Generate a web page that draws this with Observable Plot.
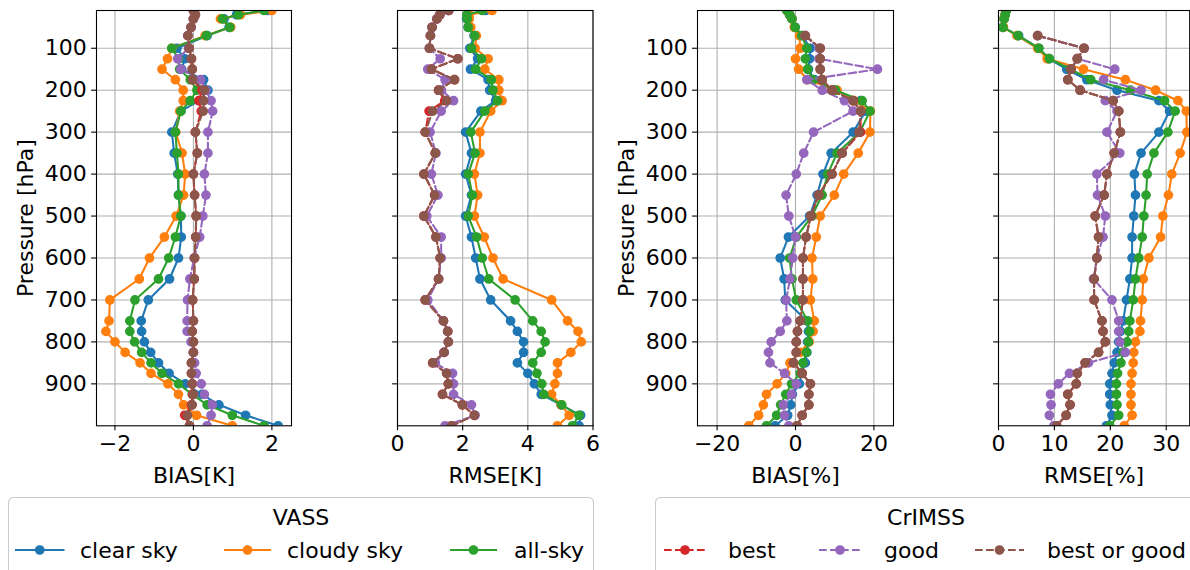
<!DOCTYPE html>
<html><head><meta charset="utf-8">
<script src="https://cdn.jsdelivr.net/npm/d3@7"></script>
<script src="https://cdn.jsdelivr.net/npm/@observablehq/plot@0.6"></script>
<style>
html,body{margin:0;padding:0;background:#fff;}
#wrap{position:relative;width:1190px;height:570px;overflow:hidden;font-family:"DejaVu Sans",sans-serif;background:#fff;}
#wrap svg{position:absolute;top:0;}
</style></head><body><div id="wrap"></div>
<script>
// Pressure levels [hPa]
const levels = [10,20,30,50,70,100,125,150,175,200,225,250,300,350,400,450,500,550,600,650,700,750,775,800,825,850,875,900,925,950,975,1000];
const yTicks = [100,200,300,400,500,600,700,800,900];

// Series
const seriesNames = ["clear sky","cloudy sky","all-sky","best","good","best or good"];
const seriesColors = ["#1f77b4","#ff7f0e","#2ca02c","#d62728","#9467bd","#8c564b"];
const seriesDashed = [false,false,false,true,true,true];
const legendTitles = ["VASS","CrIMSS"];

// Panel 1: BIAS [K]
const biasK_clear   = [1.9,1.1,0.78,0.91,0.35,-0.42,-0.22,-0.30,0.26,0.37,0.15,-0.32,-0.55,-0.49,-0.40,-0.38,-0.32,-0.31,-0.38,-0.61,-1.15,-1.33,-1.32,-1.25,-1.09,-0.89,-0.62,-0.21,0.22,0.65,1.33,2.16];
const biasK_cloudy  = [2.0,1.2,0.69,0.95,0.30,-0.55,-0.66,-0.80,-0.46,-0.26,-0.26,-0.35,-0.45,-0.29,-0.21,-0.25,-0.44,-0.74,-1.12,-1.38,-2.13,-2.15,-2.23,-2.00,-1.74,-1.36,-1.08,-0.65,-0.38,-0.25,0.08,0.99];
const biasK_all     = [1.8,1.15,0.74,0.93,0.33,-0.55,-0.38,-0.35,-0.08,0.09,-0.08,-0.32,-0.46,-0.42,-0.38,-0.38,-0.32,-0.46,-0.63,-0.89,-1.49,-1.62,-1.62,-1.50,-1.32,-1.08,-0.80,-0.38,-0.03,0.35,0.99,1.80];
const biasK_best    = [0.0,0.05,0.0,-0.06,-0.14,-0.11,-0.05,-0.03,-0.02,0.22,0.14,0.20,0.05,0.10,0.0,0.03,0.07,0.06,0.03,0.02,-0.02,0.0,-0.03,0.0,0.0,-0.05,-0.05,-0.03,-0.02,-0.05,-0.22,-0.10];
const biasK_good    = [0.0,0.05,0.0,-0.06,-0.14,-0.12,-0.40,-0.32,0.18,0.32,0.45,0.49,0.37,0.37,0.28,0.32,0.24,0.16,0.02,-0.09,-0.15,-0.16,-0.16,-0.06,0.0,0.03,0.07,0.20,0.28,0.48,0.45,0.35];
const biasK_bestgood= [0.0,0.05,0.0,-0.06,-0.14,-0.11,-0.05,-0.03,-0.02,0.28,0.26,0.25,0.05,0.10,0.0,0.03,0.07,0.06,0.03,0.02,-0.02,0.0,-0.03,0.0,0.0,-0.05,-0.05,-0.03,0.0,-0.03,-0.15,-0.10];

// Panel 2: RMSE [K]
const rmseK_clear   = [2.7,2.15,2.12,2.17,2.35,2.22,2.46,2.24,2.78,2.83,3.01,2.56,2.09,2.27,2.09,2.27,2.09,2.27,2.40,2.53,2.86,3.47,3.68,3.87,3.87,3.68,4.00,4.20,4.41,5.02,5.62,5.57];
const rmseK_cloudy  = [2.9,2.2,2.2,2.25,2.42,2.38,2.78,2.68,3.11,3.11,3.21,2.86,2.53,2.53,2.36,2.46,2.36,2.66,2.93,3.24,4.73,5.22,5.54,5.64,5.32,4.91,4.91,4.83,4.73,5.02,5.27,4.91];
const rmseK_all     = [2.6,2.13,2.14,2.17,2.37,2.27,2.58,2.40,2.88,2.93,3.07,2.68,2.25,2.38,2.17,2.30,2.17,2.43,2.60,2.80,3.61,4.15,4.41,4.53,4.41,4.15,4.28,4.43,4.49,5.04,5.57,5.37];
const rmseK_best    = [1.57,1.30,1.21,1.06,1.01,0.98,1.85,1.04,1.75,1.26,1.45,0.97,0.85,1.16,0.81,1.14,0.81,1.18,1.31,1.26,0.85,1.41,1.54,1.56,1.43,1.08,1.51,1.56,1.38,1.99,2.36,1.66];
const rmseK_good    = [1.57,1.30,1.21,1.06,1.01,0.98,1.31,0.93,1.46,1.35,1.72,1.34,1.00,1.18,1.04,1.24,0.90,1.34,1.34,1.26,0.93,1.41,1.54,1.56,1.43,1.16,1.69,1.72,1.72,2.27,2.38,1.46];
const rmseK_bestgood= [1.57,1.30,1.21,1.06,1.01,0.98,1.85,1.04,1.75,1.26,1.51,1.08,0.85,1.16,0.81,1.14,0.81,1.18,1.31,1.26,0.85,1.41,1.54,1.56,1.43,1.08,1.51,1.56,1.38,1.99,2.36,1.66];

// Panel 3: BIAS [%]  (CrIMSS humidity starts at 70 hPa)
const biasP_clear   = [-2.2,-1.5,-0.9,-0.1,1.8,3.75,3.6,3.3,4.8,9.7,16.6,17.9,14.7,9.1,7.0,5.5,3.6,-1.8,-3.9,-2.9,-2.6,2.9,3.3,3.1,2.9,2.5,1.5,1.0,-0.8,-1.2,-2.0,-5.2];
const biasP_cloudy  = [-2.2,-1.5,-0.9,-0.3,1.0,1.2,0.0,0.8,3.0,10.6,14.9,19.1,19.0,16.0,12.3,9.9,6.3,5.3,4.2,4.4,3.8,4.8,4.5,3.5,1.2,-1.4,-2.5,-4.7,-7.4,-8.2,-9.4,-11.9];
const biasP_all     = [-2.2,-1.5,-0.9,-0.1,1.6,2.9,2.5,3.1,4.4,10.2,17.0,19.0,16.4,10.6,8.2,6.8,4.2,0.2,-1.5,-0.9,0.2,3.1,3.6,3.3,2.8,1.9,1.2,-1.0,-2.5,-3.8,-4.8,-7.4];
const biasP_best    = [null,null,null,null,2.5,6.3,6.3,6.3,6.8,9.3,14.7,16.6,16.6,11.9,9.3,5.9,3.9,2.7,1.9,1.9,1.9,1.2,0.5,0.2,0.2,-0.5,1.7,3.8,3.4,3.4,1.7,0.4];
const biasP_good    = [null,null,null,null,2.5,6.0,6.0,20.9,2.9,6.8,12.5,14.7,4.6,2.1,0.2,-2.4,-1.7,0.0,-0.7,-1.4,-2.4,-2.2,-3.9,-6.2,-6.9,-6.5,-2.8,0.2,-1.0,-3.1,-2.8,-1.7];
const biasP_bestgood= [null,null,null,null,2.5,6.3,6.3,6.3,6.8,9.3,14.7,16.6,16.2,11.9,9.3,5.9,3.9,2.7,1.9,1.9,1.9,1.2,0.5,0.2,0.2,-0.5,1.7,3.8,3.4,3.4,1.7,0.4];

// Panel 4: RMSE [%]
const rmseP_clear   = [1.4,1.2,1.0,0.8,3.6,7.2,9.0,12.2,15.8,21.2,28.7,30.6,28.7,25.5,24.3,24.5,24.2,23.9,23.9,23.5,22.9,22.3,21.8,21.5,21.2,20.7,20.3,19.9,19.9,20.0,20.3,19.3];
const rmseP_cloudy  = [1.4,1.2,1.0,0.9,3.3,7.0,8.7,15.2,22.7,28.1,32.1,33.6,33.7,32.5,31.0,30.4,29.4,29.0,26.9,25.9,25.7,25.4,25.3,24.5,24.2,24.1,23.9,23.7,23.7,23.7,23.9,22.5];
const rmseP_all     = [1.4,1.2,1.0,0.8,3.5,7.2,9.1,12.9,16.5,23.6,29.7,31.6,30.3,27.8,26.6,26.4,26.0,25.7,25.1,24.5,24.1,23.5,23.3,23.0,22.3,21.9,21.3,21.1,21.1,21.2,21.5,19.9];
const rmseP_best    = [null,null,null,null,7.0,15.3,14.1,13.0,12.4,14.6,20.5,21.5,21.8,20.7,19.4,18.9,17.3,17.9,17.6,17.1,17.1,18.5,18.7,19.1,17.9,15.5,14.1,13.9,12.4,12.8,12.1,10.4];
const rmseP_good    = [null,null,null,null,7.0,15.3,14.1,20.8,18.8,25.5,19.1,21.2,19.4,21.7,17.6,17.7,19.1,18.7,17.6,17.0,20.3,21.5,21.5,21.7,22.7,16.1,12.7,10.7,9.3,9.4,9.1,9.9];
const rmseP_bestgood= [null,null,null,null,7.0,15.3,14.1,13.0,12.4,14.6,20.5,21.5,21.8,20.7,19.4,18.9,17.3,17.9,17.6,17.1,17.1,18.5,18.7,19.1,17.9,15.5,14.1,13.9,12.4,12.8,12.1,10.4];

const panels = [
  {values:[biasK_clear,biasK_cloudy,biasK_all,biasK_best,biasK_good,biasK_bestgood], xDomain:[-2.47,2.50], xTicks:[-2,0,2], xLabel:"BIAS[K]", showY:true, frameLeft:96, frameW:195},
  {values:[rmseK_clear,rmseK_cloudy,rmseK_all,rmseK_best,rmseK_good,rmseK_bestgood], xDomain:[0,6], xTicks:[0,2,4,6], xLabel:"RMSE[K]", showY:false, frameLeft:396.5, frameW:195.5},
  {values:[biasP_clear,biasP_cloudy,biasP_all,biasP_best,biasP_good,biasP_bestgood], xDomain:[-25,25], xTicks:[-20,0,20], xLabel:"BIAS[%]", showY:true, frameLeft:697.3, frameW:196},
  {values:[rmseP_clear,rmseP_cloudy,rmseP_all,rmseP_best,rmseP_good,rmseP_bestgood], xDomain:[0,34.2], xTicks:[0,10,20,30], xLabel:"RMSE[%]", showY:false, frameLeft:998.3, frameW:191.2}
];

const wrap = document.getElementById("wrap");
const H = 500, MT = 10, MB = H - 425.3;
const FS = 22;

panels.forEach(pn => {
  const ml = pn.showY ? 100 : 20;
  const mr = 6;
  const marks = [
    Plot.gridX(pn.xTicks, {stroke:"#b0b0b0", strokeOpacity:1, strokeWidth:1.1}),
    Plot.gridY(yTicks, {stroke:"#b0b0b0", strokeOpacity:1, strokeWidth:1.1})
  ];
  pn.values.forEach((vals, i) => {
    const data = levels.map((p, j) => ({p, v: vals[j]}));
    marks.push(Plot.line(data, {x:"v", y:"p", stroke:seriesColors[i], strokeWidth:2.08,
      strokeDasharray: seriesDashed[i] ? "7.7,3.3" : null, clip:true}));
    marks.push(Plot.dot(data, {x:"v", y:"p", r:4.17, fill:seriesColors[i], stroke:seriesColors[i], strokeWidth:1.39, clip:true}));
  });
  marks.push(Plot.frame({stroke:"black", strokeWidth:1.1}));
  marks.push(Plot.axisX(pn.xTicks, {tickSize:4.9, tickPadding:4.9, fontSize:FS, label:null, stroke:"black", strokeWidth:1.1}));
  marks.push(Plot.axisY(yTicks, {tickSize:4.9, tickPadding:4.9, fontSize:FS, label:null, stroke:"black", strokeWidth:1.1,
    tickFormat: pn.showY ? (d => String(d)) : (() => "")}));
  marks.push(Plot.text([pn.xLabel], {frameAnchor:"bottom", text:d=>d, dy:50, fontSize:FS, fill:"black", textAnchor:"middle", lineAnchor:"middle"}));
  if (pn.showY) marks.push(Plot.text(["Pressure [hPa]"], {frameAnchor:"left", text:d=>d, rotate:-90, dx:-71, fontSize:FS, fill:"black", textAnchor:"middle", lineAnchor:"middle"}));
  const svg = Plot.plot({
    width: ml + pn.frameW + mr, height: H,
    marginLeft: ml, marginRight: mr, marginTop: MT, marginBottom: MB,
    style: {fontFamily:"DejaVu Sans", fontSize:FS+"px", color:"black", background:"transparent", overflow:"visible"},
    x: {domain: pn.xDomain},
    y: {domain: [1000, 10]},
    marks
  });
  svg.style.left = (pn.frameLeft - ml) + "px";
  wrap.appendChild(svg);
});

// Legend boxes
const ns = "http://www.w3.org/2000/svg";
const leg = document.createElementNS(ns, "svg");
leg.setAttribute("width", 1190); leg.setAttribute("height", 73);
leg.style.top = "497px"; leg.style.left = "0px";
leg.style.fontFamily = "DejaVu Sans";
function el(tag, attrs, parent) { const e = document.createElementNS(ns, tag); for (const k in attrs) e.setAttribute(k, attrs[k]); (parent||leg).appendChild(e); return e; }
const boxes = [
  {x:8.5, w:585, title:legendTitles[0], tx:301, items:[[0,15,64.5,80],[1,224,271,287],[2,450,497,514]]},
  {x:655.5, w:600, title:legendTitles[1], tx:926, items:[[3,664,706,728],[4,819,861,884],[5,975,1024,1047]]}
];
boxes.forEach(b => {
  el("rect", {x:b.x, y:0.5, width:b.w, height:120, rx:5, fill:"white", stroke:"#cccccc", "stroke-width":1.1});
  const t = el("text", {x:b.tx, y:20, "text-anchor":"middle", "dominant-baseline":"central", "font-size":FS, fill:"black"});
  t.textContent = b.title;
  b.items.forEach(([i, x0, x1, tx]) => {
    el("line", {x1:x0, x2:x1, y1:53, y2:53, stroke:seriesColors[i], "stroke-width":2.08, "stroke-dasharray": seriesDashed[i] ? "7.7,3.3" : "none"});
    el("circle", {cx:(x0+x1)/2, cy:53, r:4.17, fill:seriesColors[i], stroke:seriesColors[i], "stroke-width":1.39});
    const tt = el("text", {x:tx, y:53, "dominant-baseline":"central", "font-size":FS, fill:"black"});
    tt.textContent = seriesNames[i];
  });
});
wrap.appendChild(leg);
</script></body></html>
